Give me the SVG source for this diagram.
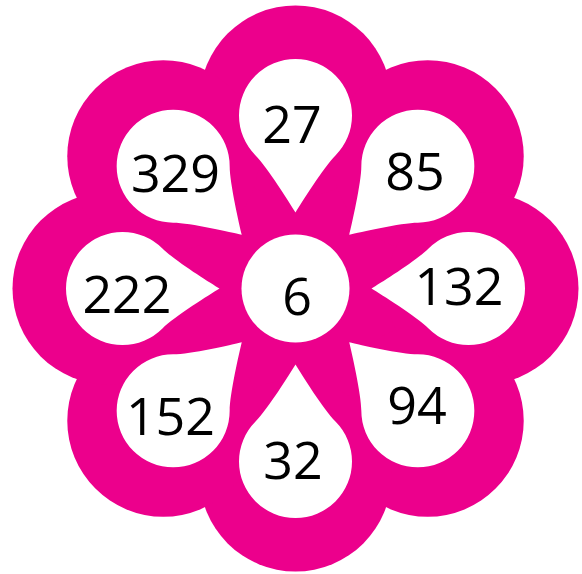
<svg xmlns="http://www.w3.org/2000/svg" width="582" height="574" viewBox="0 0 582 574">
  <defs>
    <style>
      .bg { fill: #EC008C; }
      .hole { fill: #FFFFFF; }
      .num { font-family: "Open Sans", "Liberation Sans", sans-serif; font-size: 52px; fill: #000000; text-anchor: middle; }
    </style>
    <path id="drop" d="M 0,97 C -5.5,88 -28,52 -39.95,39.95 A 56.5 56.5 0 1 1 39.95,39.95 C 28,52 5.5,88 0,97 Z"/>
  </defs>
  <rect width="582" height="574" fill="#FFFFFF"/>
  <g id="flower" transform="translate(295.5,288.5)">
    <circle class="bg" r="200"/>
    <circle class="bg" cx="0" cy="-187" r="96" transform="rotate(0)"/>
    <circle class="bg" cx="0" cy="-187" r="96" transform="rotate(45)"/>
    <circle class="bg" cx="0" cy="-187" r="96" transform="rotate(90)"/>
    <circle class="bg" cx="0" cy="-187" r="96" transform="rotate(135)"/>
    <circle class="bg" cx="0" cy="-187" r="96" transform="rotate(180)"/>
    <circle class="bg" cx="0" cy="-187" r="96" transform="rotate(225)"/>
    <circle class="bg" cx="0" cy="-187" r="96" transform="rotate(270)"/>
    <circle class="bg" cx="0" cy="-187" r="96" transform="rotate(315)"/>
  </g>
  <g id="petal-27">
    <use href="#drop" class="hole" transform="translate(295.5,288.5) rotate(0) translate(0,-173)"/>
    <text class="num" x="292" y="143">27</text>
  </g>
  <g id="petal-85">
    <use href="#drop" class="hole" transform="translate(295.5,288.5) rotate(45) translate(0,-173)"/>
    <text class="num" x="415" y="190">85</text>
  </g>
  <g id="petal-132">
    <use href="#drop" class="hole" transform="translate(295.5,288.5) rotate(90) translate(0,-173)"/>
    <text class="num" x="459" y="305">132</text>
  </g>
  <g id="petal-94">
    <use href="#drop" class="hole" transform="translate(295.5,288.5) rotate(135) translate(0,-173)"/>
    <text class="num" x="417" y="424">94</text>
  </g>
  <g id="petal-32">
    <use href="#drop" class="hole" transform="translate(295.5,288.5) rotate(180) translate(0,-173)"/>
    <text class="num" x="293" y="479">32</text>
  </g>
  <g id="petal-152">
    <use href="#drop" class="hole" transform="translate(295.5,288.5) rotate(225) translate(0,-173)"/>
    <text class="num" x="170.5" y="435">152</text>
  </g>
  <g id="petal-222">
    <use href="#drop" class="hole" transform="translate(295.5,288.5) rotate(270) translate(0,-173)"/>
    <text class="num" x="127" y="313">222</text>
  </g>
  <g id="petal-329">
    <use href="#drop" class="hole" transform="translate(295.5,288.5) rotate(315) translate(0,-173)"/>
    <text class="num" x="175.5" y="192">329</text>
  </g>
  <g id="center-6">
    <circle class="hole" cx="295.5" cy="288.5" r="54"/>
    <text class="num" x="297" y="315">6</text>
  </g>
</svg>
